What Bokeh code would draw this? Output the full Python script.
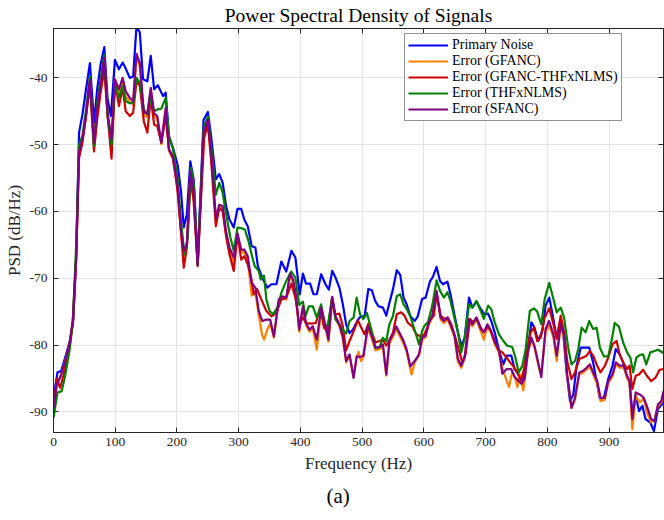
from bokeh.plotting import figure
from bokeh.models import Range1d, FixedTicker, LinearAxis, Legend, LegendItem, Title
from bokeh.embed import file_html
from bokeh.resources import INLINE

# ---------------- data ----------------
x_ticks = [0, 100, 200, 300, 400, 500, 600, 700, 800, 900]
y_ticks = [-90, -80, -70, -60, -50, -40]

freq_primary = [0, 6.5, 12.4, 18.8, 27, 32, 36.6, 41.4, 46.8, 52.7, 59, 65.6, 71, 76.3, 82.3, 87.6, 93, 99.5,
                106, 112, 117, 123.6, 129, 134.4, 139.8, 145, 152, 157.5, 163, 169, 174.7, 177.4, 181.7, 187,
                193.5, 201, 206.5, 211, 216, 221.6, 227, 233.5, 243, 250, 255, 263, 268.5, 274, 279.5, 285,
                292, 298, 304, 309, 314.6, 321, 327, 331, 339.4, 346.4, 352.9, 361, 369, 377, 385.3, 391.8,
                398.8, 404, 409, 415.7, 421, 426.5, 433.5, 440.5, 446, 451.5, 456.8, 463, 468.6, 474, 479.5,
                485, 493, 498, 503.8, 510, 515.7, 521, 526.5, 533.5, 539, 544, 549.7, 556, 561.6, 567, 572,
                578, 585, 590, 597, 602.7, 609.7, 615, 620.5, 626, 631, 638, 643, 649.7, 655, 660.5, 666,
                673, 678.4, 685, 692, 698, 704, 709, 714.6, 721.6, 728.6, 734, 741.6, 746.8, 752.4, 757.8,
                763, 768.6, 774, 779, 785, 792, 797, 803, 808.6, 815, 820.4, 825.8, 831, 836.6, 842, 847.3,
                853.8, 860.7, 867.7, 874, 879.6, 885, 891.4, 898.4, 905.4, 910.7, 917, 922.6, 928, 933,
                937.6, 943, 948.4, 953.8, 959, 966.6, 972.5, 979, 988]
psd_primary = [-87.9, -84.1, -83.9, -81.9, -79.2, -76.2, -67.2, -48.2, -45.5, -41.7, -37.8, -46.7, -41.5, -38.0,
               -35.4, -43.2, -45.7, -37.3, -38.7, -37.7, -38.6, -40.0, -39.8, -32.3, -33.2, -40.2, -40.5, -36.7,
               -41.7, -41.1, -42.2, -42.7, -42.2, -48.7, -50.5, -53.0, -57.0, -62.4, -60.4, -52.5, -55.2, -67.6,
               -46.3, -45.1, -48.5, -55.2, -54.4, -55.7, -59.2, -61.2, -62.4, -59.6, -59.6, -61.2, -62.2, -65.2,
               -65.4, -68.2, -70.2, -71.4, -70.9, -70.9, -67.5, -69.0, -65.9, -66.9, -72.4, -69.3, -70.8, -70.8,
               -72.4, -72.4, -69.4, -70.9, -71.7, -68.9, -69.9, -71.4, -73.9, -76.9, -78.2, -77.7, -76.2, -75.7,
               -75.7, -71.6, -71.8, -73.4, -74.2, -74.4, -75.6, -73.7, -71.7, -68.8, -69.5, -72.9, -73.9, -75.7,
               -76.4, -75.7, -73.1, -72.9, -70.5, -69.7, -68.3, -70.4, -70.9, -70.5, -72.4, -75.6, -78.1, -80.1,
               -78.9, -72.9, -74.4, -73.5, -74.6, -75.4, -75.3, -76.4, -78.1, -80.8, -82.9, -81.6, -81.6, -83.6,
               -84.3, -85.3, -84.3, -80.3, -76.6, -77.4, -79.4, -77.8, -74.1, -72.9, -75.6, -78.9, -76.6, -78.4,
               -84.1, -88.4, -87.4, -83.1, -80.4, -80.4, -80.4, -82.6, -85.4, -88.1, -87.9, -85.1, -83.1, -80.6,
               -81.4, -82.6, -84.6, -85.6, -90.4, -87.6, -89.9, -89.1, -91.1, -91.6, -92.9, -89.6, -88.6]

freq_gfanc = [0, 5.4, 11.8, 18.8, 25.8, 31.2, 36.6, 41.4, 46.8, 52.7, 59, 65.6, 71, 76.3, 82.3, 87.6, 94, 99.5,
              106, 112, 117, 123.6, 129, 134.4, 139.8, 146.3, 152, 157.5, 163, 168, 174.7, 181.7, 187, 193.5,
              201, 206.5, 211, 216, 221.6, 227, 233.5, 243, 250, 255, 263, 268.5, 274, 279.5, 285, 292, 298,
              304, 309, 314.6, 321, 327, 332.4, 338, 341, 347.5, 351, 357, 364.7, 370.8, 377, 383, 388, 393,
              398, 404, 409, 414.6, 420, 426.5, 433.5, 440, 445.4, 451.5, 456.8, 463, 468.6, 474, 479.5, 486,
              491, 494, 498, 502, 509, 514.6, 521.6, 528, 533.5, 539, 544, 549.7, 555, 561.6, 567, 572, 580,
              585, 592, 597, 602.7, 608, 613.5, 620.5, 627, 632.4, 638, 643, 649.7, 655, 660.5, 666, 673,
              678.4, 685, 692, 697, 702.7, 709, 714.6, 721.6, 727, 731, 737.8, 743, 746.8, 751.4, 755, 761,
              768.6, 774, 779, 785, 790, 797, 802.7, 809.7, 815, 821.5, 827, 832, 839, 844.6, 851.6, 857,
              863.4, 868.8, 874, 880.6, 886, 893, 898.4, 905.4, 910.7, 917, 923.7, 929, 933, 937.6, 943,
              949.5, 956, 961, 968, 973.6, 979, 984.5, 988]
psd_gfanc = [-89.4, -85.9, -84.6, -82.4, -79.9, -76.4, -67.2, -51.2, -49.4, -45.7, -40.5, -49.9, -44.8, -41.4,
             -37.6, -45.4, -49.6, -40.4, -42.4, -40.6, -42.8, -43.6, -44.0, -37.0, -38.2, -45.6, -45.8, -41.8,
             -45.6, -46.2, -49.9, -44.9, -50.9, -52.2, -56.6, -63.2, -66.6, -65.3, -54.4, -57.4, -68.2, -48.5,
             -46.6, -51.0, -61.4, -59.4, -59.6, -63.4, -66.0, -67.8, -63.6, -66.0, -66.2, -67.2, -72.6, -72.2,
             -75.5, -78.5, -79.2, -77.4, -76.8, -78.9, -73.6, -72.9, -73.2, -69.6, -70.6, -73.0, -78.0, -74.6,
             -77.0, -78.0, -77.6, -80.7, -74.8, -77.2, -79.5, -73.2, -76.0, -77.2, -79.0, -82.6, -81.6, -84.9,
             -82.0, -81.0, -82.4, -81.8, -77.6, -78.8, -80.8, -80.6, -80.2, -84.6, -79.8, -78.8, -77.6, -78.8,
             -79.8, -81.0, -84.4, -82.6, -81.6, -79.2, -78.8, -76.9, -75.9, -72.2, -76.2, -76.7, -76.2, -77.2,
             -78.9, -82.5, -83.4, -82.0, -76.4, -77.2, -76.2, -77.9, -79.2, -77.2, -78.2, -79.8, -81.2, -83.4,
             -84.6, -86.3, -84.0, -84.6, -86.3, -84.4, -86.8, -81.2, -79.2, -80.4, -82.9, -84.6, -78.0, -77.1,
             -78.8, -82.4, -77.2, -79.0, -84.6, -89.4, -88.2, -84.4, -84.2, -83.7, -83.2, -84.4, -85.8, -88.4,
             -88.2, -85.7, -84.7, -82.9, -83.4, -83.4, -84.9, -85.7, -92.6, -87.6, -88.6, -88.0, -90.1, -91.6,
             -91.0, -89.2, -88.6, -87.1]

freq_hybrid = [0, 5.4, 10.8, 16, 21.5, 27, 32, 36.6, 41.4, 46.8, 52.7, 59, 65.6, 71, 76.3, 82.3, 87.6, 94,
               99.5, 106, 112, 117, 123.6, 129, 134.4, 139.8, 146.3, 152, 157.5, 163, 168, 174.7, 181.7, 187,
               193.5, 201, 206.5, 211, 216, 221.6, 227, 233.5, 244, 250, 255, 263, 268.5, 274, 279.5, 285, 292,
               298, 304, 309, 314.6, 320, 324.3, 329.6, 336.7, 344.8, 352.9, 361, 369, 377, 385.3, 391.8,
               398, 404, 409, 417, 425, 432, 438, 444, 451, 456, 463, 468.6, 474, 479.5, 485, 493, 498, 503.8,
               510, 515.7, 521.6, 528, 533.5, 539, 544, 549.7, 556, 563, 568.5, 574, 581, 587.6, 594, 600,
               605.4, 610.8, 616, 620.5, 627, 633.5, 639, 644.3, 651, 656.8, 662, 667.6, 674.6, 680, 685, 692,
               697, 704, 709, 714.6, 721.6, 727, 734, 739.5, 745.7, 751.4, 757, 762, 767.6, 773, 778, 783.5,
               789, 795.6, 803, 809.7, 815, 821.5, 827, 832, 839, 844.6, 851.6, 857, 863.4, 868.8, 874, 880.6,
               886, 893, 898.4, 905.4, 912, 917, 922.6, 929, 933, 937.6, 943, 948.4, 955, 961, 968, 975, 981.7,
               988]
psd_hybrid = [-89.4, -85.1, -86.4, -84.6, -82.1, -79.7, -76.2, -67.2, -52.0, -49.7, -45.7, -41.0, -51.0, -46.0,
              -42.2, -38.8, -45.7, -52.1, -40.5, -44.2, -41.5, -45.0, -45.7, -45.2, -40.5, -41.2, -46.5, -48.2,
              -43.0, -47.0, -47.2, -49.7, -45.7, -50.7, -51.7, -57.0, -62.9, -68.4, -65.4, -55.0, -58.5, -68.1,
              -49.0, -47.0, -52.0, -62.2, -59.5, -60.0, -63.7, -66.4, -68.9, -63.4, -67.2, -66.7, -67.9, -69.9,
              -72.4, -71.6, -73.2, -74.9, -75.7, -75.2, -73.2, -72.9, -70.8, -72.9, -76.9, -75.9, -76.7, -76.8,
              -76.7, -74.4, -77.4, -77.9, -72.9, -75.4, -75.3, -77.2, -80.8, -79.4, -78.2, -76.3, -77.3, -78.4,
              -76.8, -78.2, -79.6, -79.4, -79.2, -80.1, -79.2, -78.2, -75.4, -75.1, -75.6, -76.7, -77.2, -78.4,
              -78.7, -78.5, -77.4, -76.1, -75.6, -72.4, -75.6, -76.1, -75.9, -76.9, -78.9, -80.8, -82.6, -81.3,
              -76.1, -76.6, -75.9, -77.4, -78.1, -77.2, -78.1, -79.6, -80.8, -81.1, -81.9, -82.6, -83.3, -84.1,
              -85.3, -83.6, -80.3, -78.1, -77.4, -79.4, -78.9, -75.9, -74.5, -76.9, -79.1, -75.6, -78.1, -82.4,
              -85.1, -84.1, -82.1, -81.9, -81.6, -80.9, -81.6, -83.1, -84.1, -83.1, -81.9, -79.9, -79.4, -81.4,
              -82.6, -83.6, -83.1, -86.6, -84.6, -84.4, -83.7, -84.6, -85.4, -84.9, -83.7, -83.6]

freq_thfxnlms = [0, 6.5, 13.4, 18.8, 25.8, 31.2, 36.6, 41.4, 46.8, 52.7, 59, 65.6, 71, 76.3, 82.3, 87.6, 94,
                 99.5, 106, 112, 117, 123.6, 129, 134.4, 139.8, 146.3, 152, 157.5, 163, 169, 174.7, 181.7, 187,
                 193.5, 201, 206.5, 212, 217.5, 222.7, 228, 233.5, 243, 250, 256, 263, 268.5, 274, 279.5, 286.5,
                 292, 298, 304, 310, 315.7, 321, 326, 332.4, 335.6, 341, 344.8, 350, 355.6, 362.6, 369, 377, 385,
                 391.8, 398, 404, 408, 413.5, 420, 426.5, 433.5, 439, 444, 451.5, 456.8, 463, 468.6, 474, 479.5,
                 486, 491, 496.5, 502, 507.6, 514.6, 521, 528, 533.5, 539, 544, 549.7, 556, 561.6, 567, 572, 578,
                 586.5, 592, 597, 601, 606.5, 613.5, 620.5, 626, 632.4, 638, 643, 649.7, 655, 660.5, 666, 673,
                 678.4, 685, 692, 697, 704, 709, 714.6, 721.6, 728.6, 735, 743, 748, 753.5, 759, 764.5, 771.5,
                 778, 783.5, 790, 795.6, 803, 809.7, 815, 821.5, 827, 834, 839, 844.6, 850, 855.4, 861.8, 867.7,
                 874, 879.6, 885, 891.4, 898.4, 903.8, 909, 915.6, 922.6, 929, 934.4, 938.7, 944, 949.5, 955,
                 960, 966.6, 973.6, 979, 988]
psd_thfxnlms = [-90.9, -87.1, -86.9, -84.6, -80.9, -76.7, -65.2, -50.0, -48.7, -44.7, -39.8, -50.2, -43.5, -40.2,
                -36.5, -45.7, -50.0, -41.0, -43.0, -41.2, -43.5, -43.8, -43.7, -40.0, -40.7, -44.7, -45.5, -43.0,
                -45.0, -44.7, -44.6, -43.0, -48.7, -50.6, -55.0, -61.4, -66.4, -63.9, -53.5, -56.5, -67.9, -47.5,
                -45.8, -50.7, -57.5, -55.7, -57.2, -60.4, -63.9, -65.9, -62.4, -62.5, -62.7, -64.4, -66.5, -68.2,
                -68.9, -70.2, -69.6, -73.2, -74.9, -75.4, -74.4, -72.2, -70.4, -69.0, -69.9, -74.0, -73.5, -75.7,
                -74.2, -74.2, -75.9, -73.9, -76.9, -77.2, -72.9, -76.2, -76.9, -77.7, -78.3, -76.4, -75.9, -72.9,
                -75.4, -76.1, -75.2, -77.6, -80.4, -80.4, -78.9, -79.4, -76.9, -75.7, -72.7, -72.4, -73.9, -74.6,
                -75.7, -78.2, -79.9, -77.9, -77.1, -76.6, -74.1, -70.3, -71.9, -72.9, -72.1, -73.4, -76.1, -78.1,
                -81.1, -78.9, -73.9, -74.4, -73.4, -74.9, -76.1, -74.1, -74.6, -76.6, -78.4, -79.4, -80.1, -80.3,
                -81.8, -84.1, -83.2, -80.8, -74.9, -74.5, -75.0, -76.9, -73.1, -70.7, -73.1, -75.1, -74.4, -75.9,
                -80.6, -82.9, -82.4, -80.6, -77.4, -78.1, -76.4, -77.6, -77.4, -80.4, -81.7, -81.7, -79.4, -76.7,
                -77.2, -79.6, -81.1, -81.9, -84.1, -81.9, -81.5, -81.4, -82.9, -81.1, -80.9, -80.7, -81.2]

freq_sfanc = [0, 5.4, 11.8, 18.8, 25.8, 31.2, 36.6, 41.4, 46.8, 52.7, 59, 65.6, 71, 76.3, 82.3, 87.6, 94, 99.5,
              106, 112, 117, 123.6, 129, 134.4, 139.8, 146.3, 152, 157.5, 163, 168, 174.7, 181.7, 187, 193.5,
              201, 206.5, 211, 216, 221.6, 227, 233.5, 243, 250, 255, 263, 268.5, 274, 279.5, 285, 292, 298,
              304, 309, 314.6, 321, 327, 332.4, 338, 344.8, 351, 357, 364.7, 370.8, 377, 383, 388, 393, 398,
              404, 409, 414.6, 420, 426.5, 433.5, 440, 445.4, 451.5, 456.8, 463, 468.6, 474, 479.5, 486, 491,
              496.5, 502, 509, 514.6, 521.6, 528, 533.5, 539, 544, 549.7, 555, 561.6, 567, 572, 578, 585, 592,
              597, 602.7, 608, 613.5, 620.5, 627, 632.4, 638, 643, 649.7, 655, 660.5, 666, 673, 678.4, 685,
              692, 697, 702.7, 709, 714.6, 721.6, 727, 734, 741.6, 746.8, 752.4, 757.8, 763, 768.6, 774, 779,
              785, 790, 797, 802.7, 809.7, 815, 821.5, 827, 832, 839, 844.6, 851.6, 857, 863.4, 868.8, 874,
              880.6, 886, 893, 898.4, 905.4, 910.7, 917, 923.7, 929, 933, 937.6, 943, 949.5, 956, 961, 968,
              973.6, 979, 984.5, 988]
psd_sfanc = [-89.4, -85.9, -84.6, -82.4, -79.9, -76.4, -67.2, -51.0, -49.2, -45.5, -40.2, -49.7, -44.5, -41.0,
             -37.0, -45.2, -49.2, -40.2, -41.7, -40.0, -42.0, -43.0, -43.5, -36.4, -37.8, -45.2, -45.3, -41.5,
             -45.3, -45.7, -49.7, -44.5, -50.7, -52.0, -56.2, -62.9, -65.9, -64.9, -54.0, -57.0, -68.1, -48.2,
             -46.3, -50.7, -61.0, -59.0, -59.2, -63.0, -65.4, -66.9, -63.3, -65.7, -65.7, -66.7, -70.7, -71.4,
             -74.9, -76.4, -76.2, -76.2, -78.7, -73.2, -72.7, -72.9, -69.3, -70.2, -72.7, -77.7, -74.2, -76.7,
             -77.7, -77.2, -79.2, -74.4, -76.9, -79.2, -72.8, -75.7, -76.9, -78.7, -82.4, -81.4, -84.9, -81.7,
             -81.8, -81.6, -77.2, -78.4, -80.4, -80.3, -79.9, -84.4, -79.4, -78.4, -77.2, -78.4, -79.4, -80.7,
             -83.2, -82.4, -81.4, -78.9, -78.6, -76.6, -75.6, -71.9, -75.9, -76.4, -75.9, -76.9, -78.6, -82.1,
             -83.1, -81.8, -76.1, -76.9, -75.9, -77.6, -78.1, -76.9, -77.9, -79.4, -80.8, -84.3, -83.6, -83.6,
             -84.8, -85.3, -85.8, -85.1, -80.8, -78.9, -80.1, -82.6, -84.8, -77.6, -76.4, -78.4, -81.6, -76.9,
             -78.6, -84.4, -89.4, -87.9, -84.1, -83.9, -83.4, -82.9, -84.1, -85.4, -87.9, -87.9, -85.4, -84.4,
             -82.6, -83.1, -83.1, -84.6, -85.4, -91.1, -87.1, -87.4, -87.9, -89.1, -91.1, -91.4, -88.9, -88.4,
             -86.9]

series_names = ["Primary Noise", "Error (GFANC)", "Error (GFANC-THFxNLMS)", "Error (THFxNLMS)", "Error (SFANC)"]
series_colors = ["#0000ff", "#ff8000", "#cc0000", "#008000", "#800080"]

# ---------------- figure ----------------
FONT = "Liberation Serif"
AX = "#262626"

p = figure(width=664, height=520, output_backend="svg", toolbar_location=None,
           x_range=Range1d(0, 988), y_range=Range1d(-93.1, -32.6),
           min_border_left=53, min_border_right=1, min_border_top=27, min_border_bottom=88)
p.title.text = "Power Spectral Density of Signals"
p.title.align = "center"
p.title.text_font = FONT
p.title.text_font_size = "19.5px"
p.title.text_font_style = "normal"
p.title.text_color = "#000000"
p.title.standoff = 5
p.title.offset = 0

p.background_fill_color = "white"
p.border_fill_color = "white"
p.outline_line_color = AX
p.outline_line_width = 1

for ax in (p.xaxis[0], p.yaxis[0]):
    ax.major_tick_in = 5
    ax.major_tick_out = 0
    ax.minor_tick_in = 0
    ax.minor_tick_out = 0
    ax.axis_line_color = AX
    ax.major_tick_line_color = AX
    ax.major_label_text_font = FONT
    ax.major_label_text_font_size = "13.5px"
    ax.major_label_text_color = "#262626"
    ax.axis_label_text_font = FONT
    ax.axis_label_text_font_size = "17px"
    ax.axis_label_text_font_style = "normal"
    ax.axis_label_text_color = "#262626"

p.xaxis[0].ticker = FixedTicker(ticks=x_ticks)
p.yaxis[0].ticker = FixedTicker(ticks=y_ticks)
p.xaxis[0].major_label_overrides = {t: str(t) for t in x_ticks}
p.yaxis[0].major_label_overrides = {t: "-" + str(abs(t)) for t in y_ticks}
p.xaxis[0].axis_label = "Frequency (Hz)"
p.yaxis[0].axis_label = "PSD (dB/Hz)"
p.xaxis[0].major_label_standoff = 5
p.yaxis[0].major_label_standoff = 6
p.xaxis[0].axis_label_standoff = 5
p.yaxis[0].axis_label_standoff = 3

# box ticks on the top and right sides (no labels)
top_ax = LinearAxis(ticker=FixedTicker(ticks=x_ticks), major_tick_in=5, major_tick_out=0,
                    minor_tick_in=0, minor_tick_out=0, major_label_text_font_size="0px",
                    major_label_standoff=0, axis_line_color=AX, major_tick_line_color=AX,
                    major_label_overrides={t: "" for t in x_ticks})
right_ax = LinearAxis(ticker=FixedTicker(ticks=y_ticks), major_tick_in=5, major_tick_out=0,
                      minor_tick_in=0, minor_tick_out=0, major_label_text_font_size="0px",
                      major_label_standoff=0, axis_line_color=AX, major_tick_line_color=AX,
                      major_label_overrides={t: "" for t in y_ticks})
p.add_layout(top_ax, "above")
p.add_layout(right_ax, "right")

p.xgrid.ticker = FixedTicker(ticks=x_ticks)
p.ygrid.ticker = FixedTicker(ticks=y_ticks)
p.grid.grid_line_color = "#e3e3e3"
p.grid.grid_line_width = 1

series = [(freq_primary, psd_primary), (freq_gfanc, psd_gfanc), (freq_hybrid, psd_hybrid),
          (freq_thfxnlms, psd_thfxnlms), (freq_sfanc, psd_sfanc)]
items = []
for (fx, fy), name, col in zip(series, series_names, series_colors):
    r = p.line(fx, fy, line_color=col, line_width=2.2, line_join="round")
    items.append(LegendItem(label=name, renderers=[r]))

legend = Legend(items=items, location=(351, 311), orientation="vertical",
                label_text_font=FONT, label_text_font_size="14px", label_text_color="#000000",
                glyph_width=40, glyph_height=16, label_height=16, label_standoff=4,
                spacing=0, padding=3, margin=0,
                border_line_color=AX, border_line_width=1,
                background_fill_color="white", background_fill_alpha=1)
p.add_layout(legend)

cap = Title(text="(a)", align="left", offset=273, standoff=13, text_font=FONT,
            text_font_size="21px", text_font_style="normal", text_color="#000000")
p.add_layout(cap, "below")

open("out.html", "w").write(file_html(p, INLINE))
